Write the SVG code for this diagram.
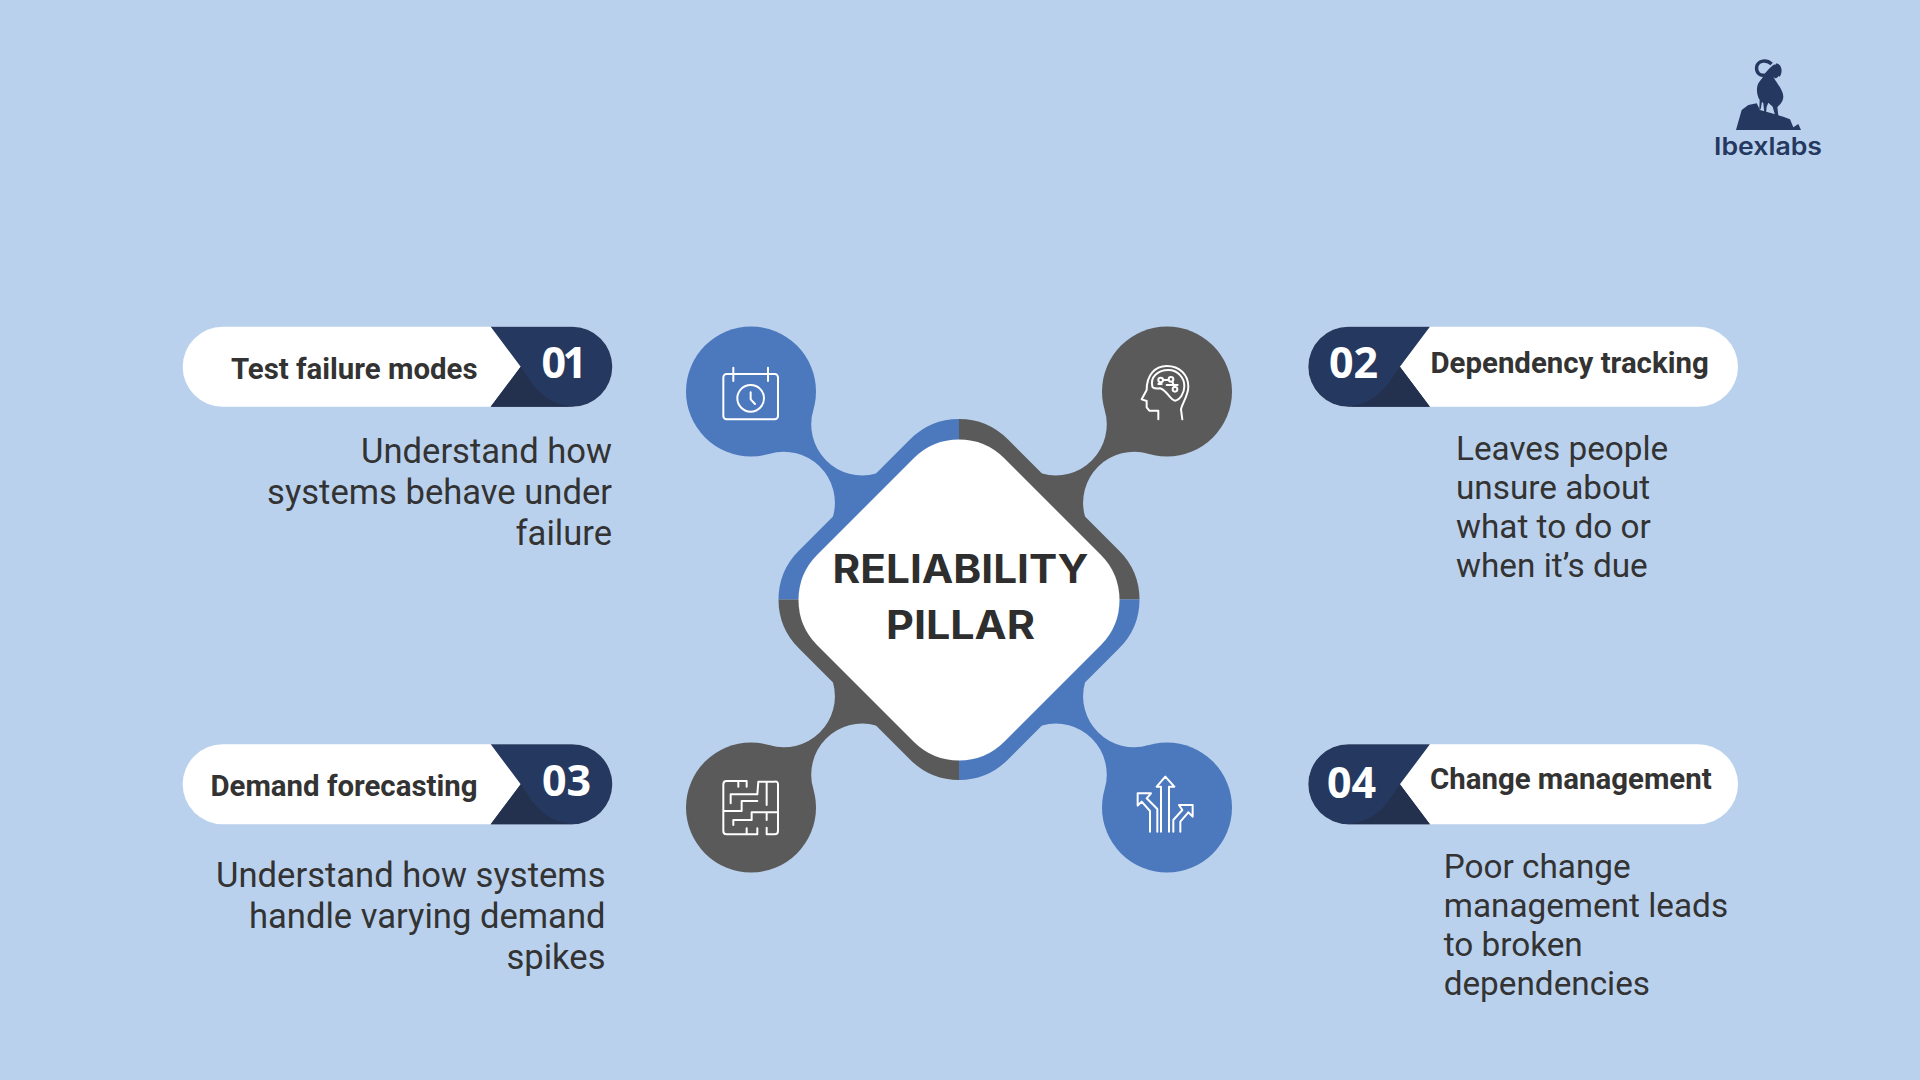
<svg xmlns="http://www.w3.org/2000/svg" xmlns:xlink="http://www.w3.org/1999/xlink" width="1920" height="1080" viewBox="0 0 1920 1080">
<defs>
<style>
.blue{fill:#4c79bd}.grey{fill:#5a5a5a}
.ic{fill:none;stroke:#fff;stroke-width:6;stroke-linecap:round;stroke-linejoin:round}
.lbl{font-family:Roboto,"Liberation Sans",sans-serif;font-weight:700;font-size:29.400px;fill:#333}
.num{font-family:"Open Sans","Liberation Sans",sans-serif;font-weight:700;font-size:43px;fill:#fff}
.body{font-family:Roboto,"Liberation Sans",sans-serif;font-size:33.300px;fill:#333}
.bodyL{font-family:Roboto,"Liberation Sans",sans-serif;font-size:34.600px;fill:#333;text-anchor:end}
.title{font-family:Inter,"Liberation Sans",sans-serif;font-weight:700;font-size:39px;fill:#2e2e2e;text-anchor:middle}
.end{text-anchor:end}
.navy{fill:#25385f}.wedge{fill:#23314f}
</style>
<path id="arm" d="M-208,-208L-145.700,-189.500A51,51 0 0 0 -83,-126L-20,-100L-100,-20L-126,-83A51,51 0 0 0 -189.500,-145.700Z"/>
<path id="quad" d="M-180.500,0A69,69 0 0 1 -160.200,-48.800L-48.800,-160.200A69,69 0 0 1 0,-180.500L0,0Z"/>
<path id="pillL" d="M490.700,0H572.300A40,40 0 0 1 572.300,80H490.700L520.700,40Z"/>
<path id="wedgeL" d="M520.700,40C532,56 542,78 575,80H490.700Z"/>
</defs>
<rect id="background" width="1920" height="1080" fill="#bad1ed"/>
<g id="connectors" transform="translate(959,599.500)">
<g class="blue"><circle cx="-208" cy="-208" r="65"/><use xlink:href="#arm" href="#arm"/><use xlink:href="#quad" href="#quad"/></g>
<g class="grey" transform="scale(-1,1)"><circle cx="-208" cy="-208" r="65"/><use xlink:href="#arm" href="#arm"/><use xlink:href="#quad" href="#quad"/></g>
<g class="grey" transform="scale(1,-1)"><circle cx="-208" cy="-208" r="65"/><use xlink:href="#arm" href="#arm"/><use xlink:href="#quad" href="#quad"/></g>
<g class="blue" transform="scale(-1,-1)"><circle cx="-208" cy="-208" r="65"/><use xlink:href="#arm" href="#arm"/><use xlink:href="#quad" href="#quad"/></g>
</g>
<g id="center">
<path transform="translate(959,600)" fill="#fff" d="M-160.500,0A64,64 0 0 1 -142,-45L-45,-142A64,64 0 0 1 0,-160.500A64,64 0 0 1 45,-142L142,-45A64,64 0 0 1 160.500,0A64,64 0 0 1 142,45L45,142A64,64 0 0 1 0,160.500A64,64 0 0 1 -45,142L-142,45A64,64 0 0 1 -160.500,0Z"/>
<text class="title" x="960.500" y="583" textLength="256" lengthAdjust="spacingAndGlyphs">RELIABILITY</text>
<text class="title" x="960.500" y="638.500" textLength="149" lengthAdjust="spacingAndGlyphs">PILLAR</text>
</g>
<g id="icon-calendar" class="ic" transform="translate(680,320) scale(.3333)">
<rect x="130" y="162" width="164" height="136" rx="10"/><path d="M160,143V183M264,143V183"/><circle cx="212" cy="235" r="40"/><path d="M212,217V238L225,252"/>
</g>
<g id="icon-head" class="ic" transform="translate(1095,320) scale(.3333)">
<path d="M190,298V272H163L155,262V243L140,238L155,210C155,165 180,138 215,138C255,138 280,165 280,200C280,225 262,250 258,268L262,298"/>
<path d="M172,200C165,170 190,150 220,150C250,150 268,175 268,198C268,220 255,240 240,242C225,240 215,210 195,205C185,205 175,208 172,200Z"/>
<circle cx="197" cy="180" r="7"/><circle cx="228" cy="178" r="7"/><circle cx="240" cy="208" r="7"/><path d="M204,180H221M190,192H200M215,195H248M232,185L238,201"/>
</g>
<g id="icon-maze" class="ic" transform="translate(680,735) scale(.3333)">
<path d="M200,138H140Q130,138 130,148V288Q130,298 140,298H232V280M235,140H284Q294,138 294,148V288Q294,298 284,298H260V278M175,138V155M200,138V155M200,298V280M130,228H185V198H232M152,205V178H232L235,140M260,140V210M160,270V255H215V232H294M260,232V255"/>
</g>
<g id="icon-arrows" class="ic" transform="translate(1095,735) scale(.3333)">
<path d="M198,290V155H185L211,125L238,155H222V290M165,290V228L140,200L128,212V175H168L155,190L187,222V290M235,290V255L262,225L252,210H293V245L280,232L256,260V290"/>
</g>
<g id="pill-01">
<rect x="182.700" y="326.700" width="429.600" height="80" rx="40" fill="#fff"/>
<use xlink:href="#pillL" href="#pillL" y="326.700" class="navy"/>
<use xlink:href="#wedgeL" href="#wedgeL" y="326.700" class="wedge"/>
<text class="lbl end" x="477.500" y="379.300">Test failure modes</text>
<text class="num" x="541.500" y="378.300" letter-spacing="-3.500">01</text>
<text class="bodyL" x="612" y="463">Understand how</text><text class="bodyL" x="612" y="504">systems behave under</text><text class="bodyL" x="612" y="545">failure</text>
</g>
<g id="pill-02">
<rect x="1308.300" y="326.700" width="429.700" height="80" rx="40" fill="#fff"/>
<use xlink:href="#pillL" href="#pillL" transform="translate(1920.600,326.700) scale(-1,1)" class="navy"/>
<use xlink:href="#wedgeL" href="#wedgeL" transform="translate(1920.600,326.700) scale(-1,1)" class="wedge"/>
<text class="lbl" x="1430.500" y="373.300">Dependency tracking</text>
<text class="num" x="1329" y="378.300">02</text>
<text class="body" x="1456" y="460">Leaves people</text><text class="body" x="1456" y="499">unsure about</text><text class="body" x="1456" y="538">what to do or</text><text class="body" x="1456" y="577">when it’s due</text>
</g>
<g id="pill-03">
<rect x="182.700" y="744.300" width="429.600" height="80" rx="40" fill="#fff"/>
<use xlink:href="#pillL" href="#pillL" y="744.300" class="navy"/>
<use xlink:href="#wedgeL" href="#wedgeL" y="744.300" class="wedge"/>
<text class="lbl end" x="477.500" y="796">Demand forecasting</text>
<text class="num" x="542" y="796">03</text>
<text class="bodyL" x="605.500" y="887">Understand how systems</text><text class="bodyL" x="605.500" y="928">handle varying demand</text><text class="bodyL" x="605.500" y="969">spikes</text>
</g>
<g id="pill-04">
<rect x="1308.300" y="744.300" width="429.700" height="80" rx="40" fill="#fff"/>
<use xlink:href="#pillL" href="#pillL" transform="translate(1920.600,744.300) scale(-1,1)" class="navy"/>
<use xlink:href="#wedgeL" href="#wedgeL" transform="translate(1920.600,744.300) scale(-1,1)" class="wedge"/>
<text class="lbl" x="1430" y="789">Change management</text>
<text class="num" x="1327" y="797.500">04</text>
<text class="body" x="1443.700" y="878">Poor change</text><text class="body" x="1443.700" y="917">management leads</text><text class="body" x="1443.700" y="956">to broken</text><text class="body" x="1443.700" y="995">dependencies</text>
</g>
<g id="logo">
<g transform="translate(1730,50) scale(.3333)" fill="#25385f">
<path d="M18,240L35,180L55,165L80,160L90,180L125,190L160,200L180,208L190,232L205,222L213,240Z"/>
<path d="M105,70C112,62 122,50 130,45C142,40 150,48 150,60C150,72 145,85 135,85L130,80C140,100 160,120 160,140C160,155 148,165 142,172L146,205L138,205L128,170L115,158L110,170L108,190L103,190L100,160L96,155L92,178L88,178L89,150C80,135 78,115 85,100C92,90 100,82 105,70Z"/>
<path d="M125,42C110,28 85,30 80,50C77,68 92,80 105,74" fill="none" stroke="#25385f" stroke-width="10"/>
<path d="M138,44C152,46 154,66 146,78" fill="none" stroke="#25385f" stroke-width="8"/>
</g>
<text x="1714" y="154.500" textLength="108" lengthAdjust="spacingAndGlyphs" style="font-family:Inter,'Liberation Sans',sans-serif;font-weight:600;font-size:24.500px" fill="#25385f">Ibexlabs</text>
</g>
</svg>
